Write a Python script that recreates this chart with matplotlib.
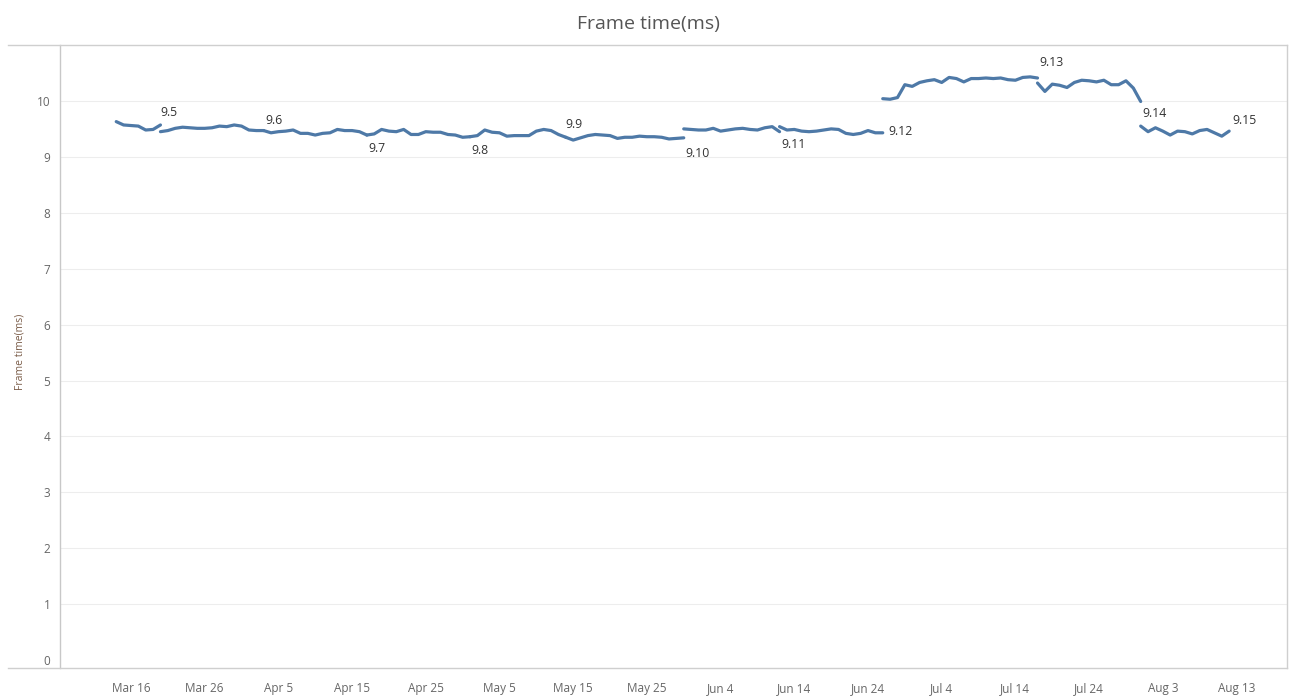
import datetime as dt
import matplotlib
matplotlib.use("Agg")
import matplotlib.pyplot as plt
import matplotlib.dates as mdates
from matplotlib.lines import Line2D

# ---------------- data ----------------
versions = ["9.5", "9.6", "9.7", "9.8", "9.9", "9.10", "9.11", "9.12", "9.13", "9.14", "9.15"]
start_dates = ["2023-03-14", "2023-03-20", "2023-04-03", "2023-04-17", "2023-05-01", "2023-05-14",
               "2023-05-30", "2023-06-12", "2023-06-26", "2023-07-17", "2023-07-31"]

v9_5 = [9.63, 9.57, 9.56, 9.55, 9.48, 9.49, 9.57]
v9_6 = [9.45, 9.47, 9.51, 9.53, 9.52, 9.51, 9.51, 9.52, 9.55, 9.54, 9.57, 9.55, 9.48, 9.47, 9.47]
v9_7 = [9.47, 9.43, 9.45, 9.46, 9.48, 9.42, 9.42, 9.39, 9.42, 9.43, 9.49, 9.47, 9.47, 9.45, 9.39]
v9_8 = [9.39, 9.41, 9.49, 9.46, 9.45, 9.49, 9.40, 9.40, 9.45, 9.44, 9.44, 9.40, 9.39, 9.35, 9.36]
v9_9 = [9.36, 9.38, 9.48, 9.44, 9.43, 9.37, 9.38, 9.38, 9.38, 9.46, 9.49, 9.47, 9.40, 9.35]
v9_10 = [9.35, 9.30, 9.34, 9.38, 9.40, 9.39, 9.38, 9.33, 9.35, 9.35, 9.37, 9.36, 9.36, 9.35, 9.32, 9.33, 9.34]
v9_11 = [9.50, 9.49, 9.48, 9.48, 9.51, 9.46, 9.48, 9.50, 9.51, 9.49, 9.48, 9.52, 9.54, 9.45]
v9_12 = [9.54, 9.48, 9.49, 9.46, 9.45, 9.46, 9.48, 9.50, 9.49, 9.42, 9.40, 9.42, 9.47, 9.43, 9.43]
v9_13 = [10.04, 10.03, 10.06, 10.29, 10.26, 10.33, 10.36, 10.38, 10.33, 10.42, 10.40,
         10.34, 10.40, 10.40, 10.41, 10.40, 10.41, 10.38, 10.37, 10.42, 10.43, 10.41]
v9_14 = [10.32, 10.17, 10.30, 10.28, 10.24, 10.33, 10.37, 10.36, 10.34, 10.37, 10.29,
         10.29, 10.36, 10.23, 9.99]
v9_15 = [9.55, 9.45, 9.52, 9.46, 9.39, 9.46, 9.45, 9.41, 9.47, 9.49, 9.43, 9.37, 9.46]
series = [v9_5, v9_6, v9_7, v9_8, v9_9, v9_10, v9_11, v9_12, v9_13, v9_14, v9_15]

tick_dates = ["2023-03-16", "2023-03-26", "2023-04-05", "2023-04-15", "2023-04-25", "2023-05-05",
              "2023-05-15", "2023-05-25", "2023-06-04", "2023-06-14", "2023-06-24", "2023-07-04",
              "2023-07-14", "2023-07-24", "2023-08-03", "2023-08-13"]
tick_labels = ["Mar 16", "Mar 26", "Apr 5", "Apr 15", "Apr 25", "May 5", "May 15", "May 25",
               "Jun 4", "Jun 14", "Jun 24", "Jul 4", "Jul 14", "Jul 24", "Aug 3", "Aug 13"]
y_ticks = list(range(0, 11))

# label placement (style): offsets in points from the last point of each version
label_offsets = {"9.5": (0, 9), "9.6": (1, 7), "9.7": (1, -10), "9.8": (1, -10), "9.9": (0, 9),
                 "9.10": (1, -11), "9.11": (1, -9), "9.12": (4, 1), "9.13": (1, 11),
                 "9.14": (1, -9), "9.15": (2, 8)}

# ---------------- figure ----------------
W, H = 1297, 696
fig = plt.figure(figsize=(W / 100, H / 100), dpi=100)
plt.rcParams['font.family'] = ['Open Sans', 'DejaVu Sans']

L, R, T, B = 60, 1287, 45, 668
ax = fig.add_axes([L / W, 1 - B / H, (R - L) / W, (B - T) / H])

line_color = "#4e79a7"
for name, start, vals in zip(versions, start_dates, series):
    d0 = dt.date.fromisoformat(start)
    dates = [d0 + dt.timedelta(days=i) for i in range(len(vals))]
    ax.plot(dates, vals, color=line_color, lw=2.3, solid_capstyle='round', solid_joinstyle='round')
    dx, dy = label_offsets[name]
    ax.annotate(name, xy=(mdates.date2num(dates[-1]), vals[-1]), xytext=(dx, dy),
                textcoords='offset points', ha='left', va='center', fontsize=8.8, color='#333333')

x0 = mdates.date2num(dt.date(2023, 3, 16))
ax.set_xlim(x0 - 9.63, x0 + 156.85)
ax.set_ylim(-0.14, 11.0)

ax.set_yticks(y_ticks)
ax.set_yticklabels([str(v) for v in y_ticks])
ax.set_xticks([mdates.date2num(dt.date.fromisoformat(d)) for d in tick_dates])
ax.set_xticklabels(tick_labels)
ax.tick_params(axis='both', length=0, labelsize=8.5, labelcolor='#666666')
ax.tick_params(axis='x', pad=10)
ax.tick_params(axis='y', pad=7)

for v in y_ticks[1:]:
    ax.axhline(v, color='#ededed', lw=0.8, zorder=0)

for s in ['top', 'bottom', 'right']:
    ax.spines[s].set_visible(False)
ax.spines['left'].set_color('#c8c8c8')
ax.spines['left'].set_linewidth(1.0)

# outer frame lines (figure coordinates)
def fx(px):
    return px / W
def fy(py):
    return 1 - py / H
frame_c = '#cfcfcf'
fig.add_artist(Line2D([fx(8), fx(R)], [fy(T), fy(T)], color=frame_c, lw=1.0))
fig.add_artist(Line2D([fx(8), fx(R)], [fy(B), fy(B)], color=frame_c, lw=1.0))
fig.add_artist(Line2D([fx(R), fx(R)], [fy(T), fy(B)], color=frame_c, lw=1.0))

fig.text(fx(648), fy(24), "Frame time(ms)", ha='center', va='center', fontsize=14, color='#555555')
fig.text(fx(20), fy(352), "Frame time(ms)", ha='center', va='center', rotation=90,
         fontsize=7.5, color='#7a5c48')

fig.savefig("out.png", dpi=100)
